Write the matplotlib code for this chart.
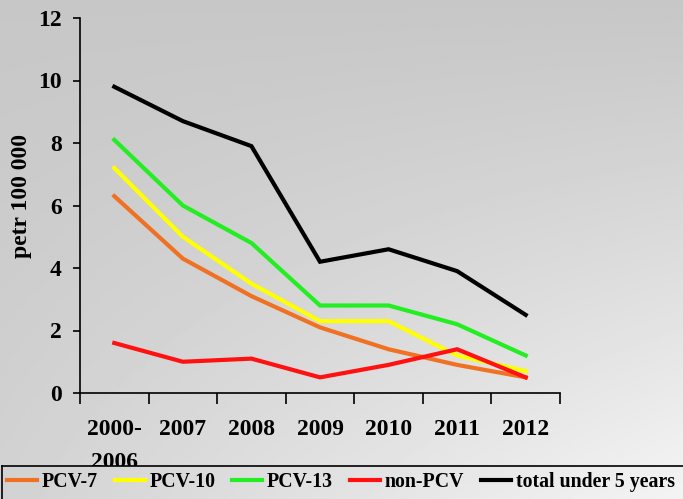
import numpy as np
import matplotlib
matplotlib.use("Agg")
import matplotlib.pyplot as plt
from matplotlib.lines import Line2D

categories = ["2000-\n2006", "2007", "2008", "2009", "2010", "2011", "2012"]
pcv7 = [6.3, 4.3, 3.1, 2.1, 1.4, 0.9, 0.5]
pcv10 = [7.2, 5.0, 3.5, 2.3, 2.3, 1.2, 0.7]
pcv13 = [8.1, 6.0, 4.8, 2.8, 2.8, 2.2, 1.2]
non_pcv = [1.6, 1.0, 1.1, 0.5, 0.9, 1.4, 0.5]
total = [9.8, 8.7, 7.9, 4.2, 4.6, 3.9, 2.5]
series_names = ["PCV-7", "PCV-10", "PCV-13", "non-PCV", "total under 5 years"]
colors = ["#f07122", "#ffff00", "#22ee22", "#ff1111", "#000000"]
yticks = [0, 2, 4, 6, 8, 10, 12]

plt.rcParams['font.family'] = ['Liberation Serif', 'DejaVu Serif']
plt.rcParams['font.weight'] = 'bold'

W, H = 683, 499
fig = plt.figure(figsize=(W / 100, H / 100), dpi=100)


def shade(yy, xx):
    return 0.78 + 0.18 * yy ** 1.1 * (0.25 + 0.75 * xx)


# background gradient
yy, xx = np.mgrid[0:1:200j, 0:1:300j]
bg = fig.add_axes([0, 0, 1, 1], zorder=-10)
bg.imshow(shade(yy, xx), cmap='gray', vmin=0, vmax=1, aspect='auto',
          extent=[0, 1, 0, 1], origin='upper')
bg.axis('off')

ax = fig.add_axes([80 / W, 1 - 393 / H, 480 / W, 375 / H])
ax.patch.set_alpha(0)
x = np.arange(len(categories))
for vals, c in zip([pcv7, pcv10, pcv13, non_pcv, total], colors):
    ax.plot(x, vals, color=c, lw=3.0, solid_joinstyle='miter')

ax.set_xlim(-0.5, len(categories) - 0.5)
ax.set_ylim(0, 12)
ax.set_yticks(yticks)
ax.set_xticks(np.arange(-0.5, len(categories), 1.0))
ax.set_xticklabels([])
ax.set_xticks(x, minor=True)
ax.set_xticklabels(categories, minor=True, fontsize=17, fontweight='bold',
                   linespacing=1.7, va='top')
ax.tick_params(axis='x', which='minor', length=0, pad=19)
ax.tick_params(axis='x', which='major', length=8, width=1.2, direction='out')
ax.tick_params(axis='y', length=5, width=1.2, direction='out', labelsize=17, pad=8)
for lab in ax.get_yticklabels():
    lab.set_fontweight('bold')
for s in ['top', 'right']:
    ax.spines[s].set_visible(False)
for s in ['left', 'bottom']:
    ax.spines[s].set_linewidth(1.2)
ax.set_ylabel("petr 100 000", fontsize=17, fontweight='bold')
ax.yaxis.set_label_coords(-0.100, 0.525)

# legend box
top_px = 466
lax = fig.add_axes([2 / W, -0.02, 690 / W, (H - top_px) / H + 0.02], zorder=5)
lyy, lxx = np.mgrid[top_px / H:1:20j, 0:1:300j]
lax.imshow(shade(lyy, lxx), cmap='gray', vmin=0, vmax=1, aspect='auto',
           extent=[0, 1, 0, 1], origin='upper')
lax.set_xticks([]); lax.set_yticks([])
for s in lax.spines.values():
    s.set_linewidth(1.2)
handles = [Line2D([], [], color=c, lw=3.0) for c in colors]
leg = fig.legend(handles, series_names, loc='center left',
                 bbox_to_anchor=(7 / W, 1 - 482 / H),
                 ncol=5, frameon=False, handlelength=1.5, handletextpad=0.25,
                 columnspacing=0.85, borderaxespad=0.0, borderpad=0.0,
                 prop={'weight': 'bold', 'size': 14.3, 'family': ['Liberation Serif']})
leg.set_zorder(10)

fig.savefig("out.png", dpi=100)
